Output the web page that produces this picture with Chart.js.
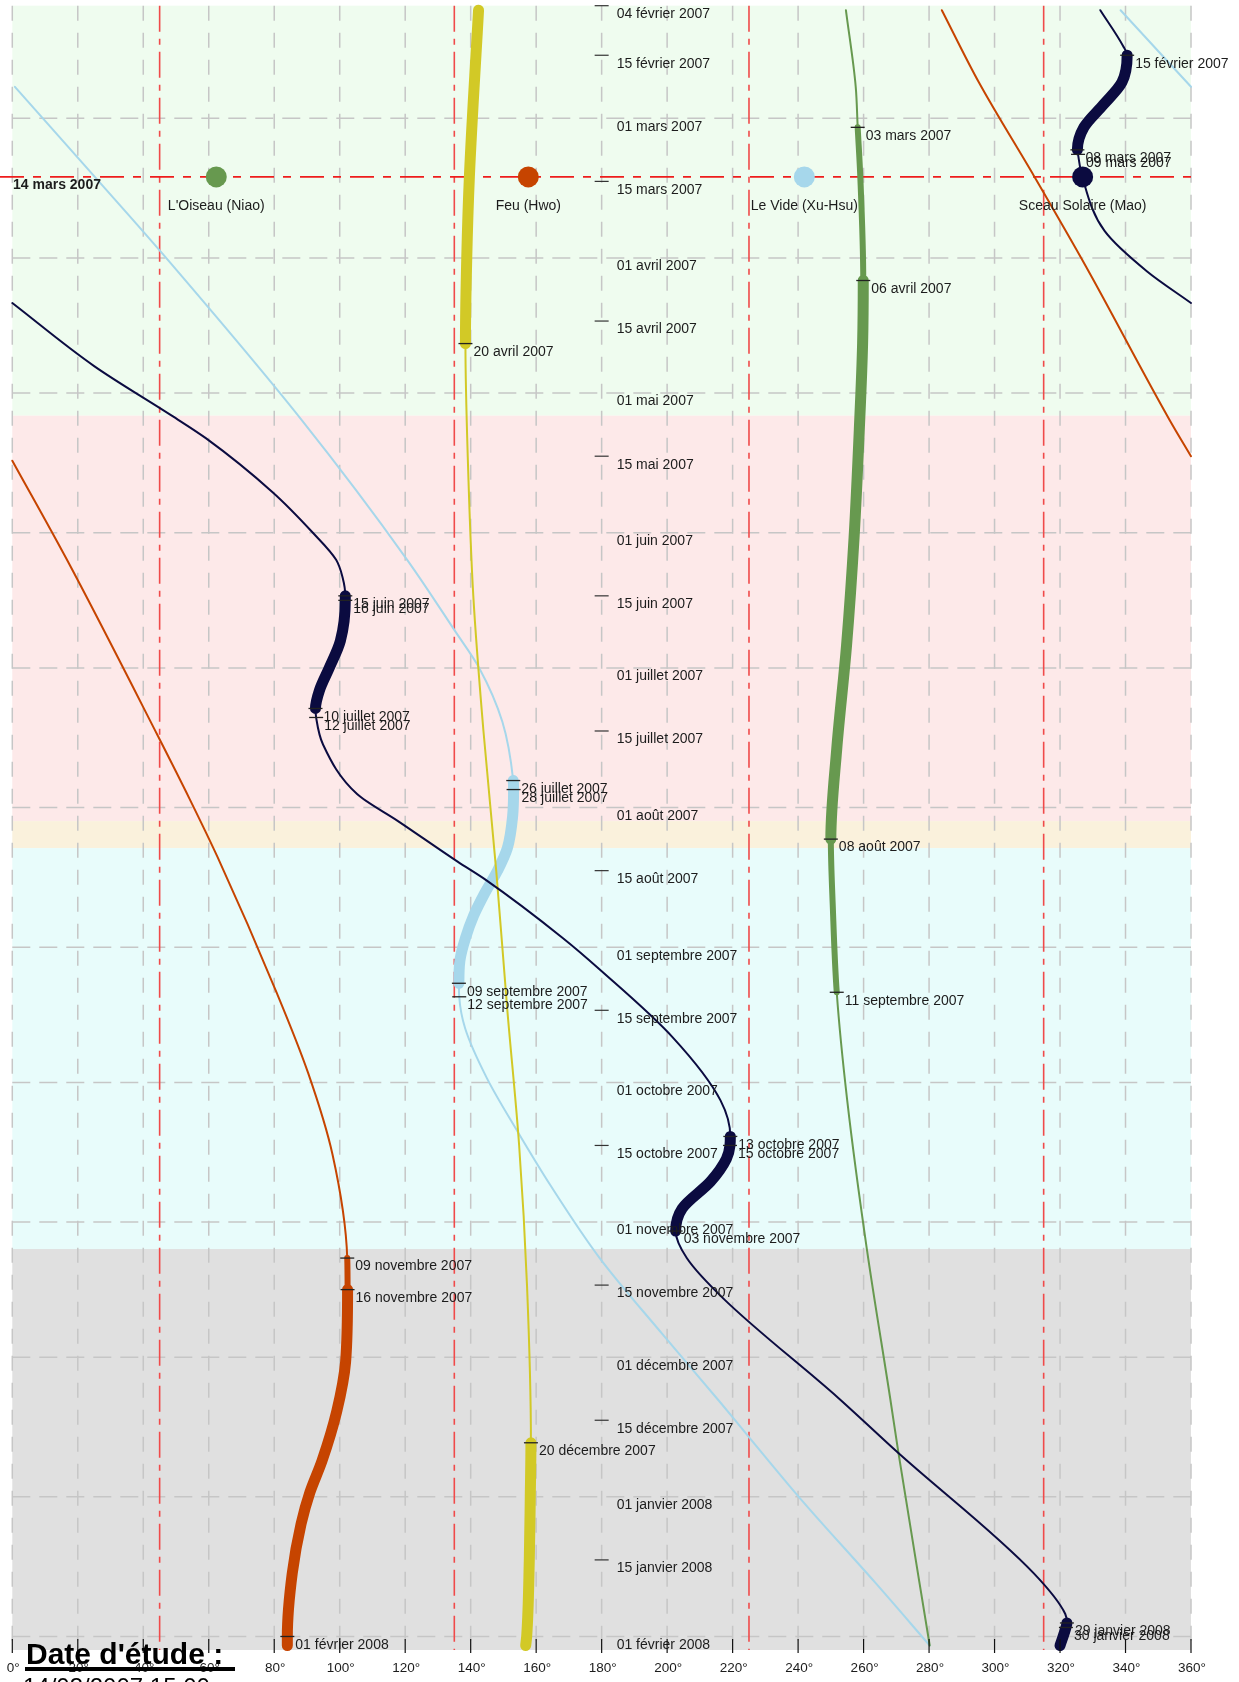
<!DOCTYPE html>
<html><head><meta charset="utf-8">
<script src="https://cdn.jsdelivr.net/npm/chart.js@4/dist/chart.umd.min.js"></script>
<style>html,body{margin:0;padding:0;background:#fff;overflow:hidden}canvas{display:block}</style>
</head><body>
<canvas id="c" width="1239" height="1682" style="width:1239px;height:1682px"></canvas>
<script>
// ---------- data ----------
const START = '2007-02-04';
const STUDY_DATE = '2007-03-14';
const STUDY_LABEL = '14 mars 2007';
const STUDY_TEXT = '14/03/2007 15:00';

const bandStarts = ['2007-02-04', '2007-05-06', '2007-08-04', '2007-08-10', '2007-11-07'];
const bandColors = ['#effcef', '#fde9e9', '#faf1dc', '#e8fcfb', '#e0e0e0'];

const axisDates = ['2007-02-04','2007-02-15','2007-03-01','2007-03-15','2007-04-01','2007-04-15','2007-05-01','2007-05-15',
  '2007-06-01','2007-06-15','2007-07-01','2007-07-15','2007-08-01','2007-08-15','2007-09-01','2007-09-15','2007-10-01',
  '2007-10-15','2007-11-01','2007-11-15','2007-12-01','2007-12-15','2008-01-01','2008-01-15','2008-02-01'];
const lonTicks = [0,20,40,60,80,100,120,140,160,180,200,220,240,260,280,300,320,340,360];
const redLons = [45, 135, 225, 315];

const markerNames = ["L'Oiseau (Niao)", 'Feu (Hwo)', 'Le Vide (Xu-Hsu)', 'Sceau Solaire (Mao)'];
const markerLons = [62.3, 157.6, 241.9, 326.9];

const saturnDates = ['2007-02-05','2007-03-14','2007-04-01','2007-04-20','2007-05-15','2007-06-15','2007-07-15','2007-08-15',
  '2007-09-15','2007-10-15','2007-11-15','2007-12-20','2008-01-01','2008-01-15','2008-02-01','2008-02-03'];
const saturnLon = [142.4,139.6,138.8,138.4,139.1,140.8,143.9,147.8,151.2,154.8,157.2,158.4,158.2,157.9,157.1,156.8];
const saturnEvents = ['2007-04-20','2007-12-20'];

const jupiterDates = ['2007-02-05','2007-02-22','2007-03-03','2007-03-14','2007-04-06','2007-04-20','2007-05-09','2007-06-02',
  '2007-06-26','2007-07-19','2007-08-08','2007-08-23','2007-09-11','2007-10-05','2007-11-07','2007-12-10','2007-12-22','2008-02-03'];
const jupiterLon = [254.6,257.6,258.2,259.0,259.9,259.7,258.7,257.1,254.8,251.8,250.0,250.6,251.8,255.0,261.0,268.1,270.6,280.2];
const jupiterEvents = ['2007-03-03','2007-04-06','2007-08-08','2007-09-11'];

const mercuryDates = ['2007-02-05','2007-02-13','2007-02-15','2007-02-21','2007-02-26','2007-03-03','2007-03-08','2007-03-09',
  '2007-03-14','2007-03-26','2007-04-04','2007-04-11','2007-04-11','2007-04-25','2007-05-06','2007-05-11',
  '2007-05-23','2007-06-01','2007-06-07','2007-06-11','2007-06-15','2007-06-16','2007-06-25','2007-07-01','2007-07-06','2007-07-10',
  '2007-07-12','2007-07-18','2007-07-29','2007-08-04','2007-08-13','2007-08-17','2007-08-30','2007-09-06','2007-09-21',
  '2007-10-05','2007-10-13','2007-10-15','2007-10-18','2007-10-23','2007-10-29','2007-11-03','2007-11-09',
  '2007-11-18','2007-12-10','2007-12-22','2008-01-18','2008-01-27','2008-01-29','2008-01-30','2008-02-03'];
const mercuryLon = [332.3,339.3,340.5,338.9,333.2,327.3,325.3,325.5,
  326.8,333.6,346.6,360,0,25.0,48.7,59.1,
  79.5,91.8,98.9,100.9,101.7,101.7,100.2,96.8,93.8,92.6,
  92.8,94.9,105.3,117.8,136.0,144.5,168.2,179.5,201.7,
  216.3,219.3,219.2,218.1,213.3,204.6,202.6,206.0,
  217.2,252.2,270.2,312.0,321.6,322.1,321.8,320.0];
const mercuryEvents = ['2007-02-15','2007-03-08','2007-03-09','2007-06-15','2007-06-16','2007-07-10','2007-07-12',
  '2007-10-13','2007-10-15','2007-11-03','2008-01-29','2008-01-30'];

const venusDates = ['2007-02-05','2007-02-22','2007-02-22','2007-03-14','2007-03-31','2007-05-07',
  '2007-06-07','2007-06-23','2007-07-01','2007-07-13','2007-07-26','2007-07-28','2007-08-03','2007-08-10','2007-08-15',
  '2007-08-20','2007-08-25','2007-08-30','2007-09-04','2007-09-09','2007-09-12','2007-09-19','2007-09-30','2007-10-12',
  '2007-10-24','2007-11-09','2007-11-26','2007-12-11','2007-12-19','2008-01-02','2008-01-20','2008-02-03'];
const venusLon = [338.5,360,0.8,25.2,45.8,88.4,
  120.6,135.4,142.6,149.7,153.0,153.1,152.8,151.2,148.2,
  144.3,140.9,138.4,136.7,136.4,136.5,138.3,144.9,154.4,
  164.5,179.4,198.7,216.2,225.3,241.4,263.5,280.2];
const venusEvents = ['2007-07-26','2007-07-28','2007-09-09','2007-09-12'];

const marsDates = ['2007-02-05','2007-02-21','2007-03-14','2007-04-03','2007-05-07','2007-05-15','2007-05-16','2007-06-07',
  '2007-07-16','2007-07-30','2007-08-12','2007-09-11','2007-09-29','2007-10-17','2007-11-09','2007-11-16','2007-12-02',
  '2007-12-13','2007-12-24','2007-12-31','2008-01-07','2008-01-18','2008-02-01','2008-02-03'];
const marsLon = [283.9,295.2,312.2,328.0,353.5,360,0,16.7,
  44.4,54.1,62.7,80.7,90.4,97.8,102.3,102.4,101.8,
  99.1,94.6,90.9,88.2,85.5,84.0,84.0];
const marsEvents = ['2007-11-09','2007-11-16','2008-02-01'];

// phases (date ranges) : slow / retrograde
const saturnRetro = [['2007-02-04','2007-04-20'], ['2007-12-20','2008-02-04']];
const jupiterSlow = [['2007-03-03','2007-04-06'], ['2007-08-08','2007-09-11']];
const jupiterRetro = [['2007-04-06','2007-08-08']];
const mercuryRetro = [['2007-02-15','2007-03-08'], ['2007-06-15','2007-07-10'], ['2007-10-13','2007-11-03'], ['2008-01-29','2008-02-04']];
const venusRetro = [['2007-07-26','2007-09-09']];
const marsSlow = [['2007-11-09','2007-11-16']];
const marsRetro = [['2007-11-16','2008-02-04']];

// ---------- helpers ----------
const MOIS = ['janvier','février','mars','avril','mai','juin','juillet','août','septembre','octobre','novembre','décembre'];
const T0 = Date.parse(START + 'T00:00:00Z');
const dayOf = s => (Date.parse(s + 'T00:00:00Z') - T0) / 86400000;
const frDate = s => { const p = s.split('-'); return p[2] + ' ' + MOIS[+p[1] - 1] + ' ' + p[0]; };
const FONT = '"Liberation Sans", Arial, Helvetica, sans-serif';
const TEXT = '#1c1c1c';

const W_THIN = 2, W_MED = 6, W_THICK = 11;

const planets = [
  {dates: mercuryDates, lons: mercuryLon, events: mercuryEvents, color: '#0b0b40', slow: [], retro: mercuryRetro, order: 1},
  {dates: marsDates, lons: marsLon, events: marsEvents, color: '#c64400', slow: marsSlow, retro: marsRetro, order: 2},
  {dates: saturnDates, lons: saturnLon, events: saturnEvents, color: '#d2c926', slow: [], retro: saturnRetro, order: 3},
  {dates: jupiterDates, lons: jupiterLon, events: jupiterEvents, color: '#67994f', slow: jupiterSlow, retro: jupiterRetro, order: 4},
  {dates: venusDates, lons: venusLon, events: venusEvents, color: '#a6d7eb', slow: [], retro: venusRetro, order: 5},
];
const markerColors = ['#67994f', '#c64400', '#a6d7eb', '#0b0b40'];

function inSpans(day, spans) {
  return spans.some(s => day > dayOf(s[0]) && day < dayOf(s[1]));
}
function widthAt(p, day) {
  return inSpans(day, p.retro) ? W_THICK : inSpans(day, p.slow) ? W_MED : W_THIN;
}
function buildDatasets(p) {
  const pts = p.dates.map((d, i) => ({x: p.lons[i], y: dayOf(d)}));
  const runs = []; let cur = [pts[0]];
  for (let i = 1; i < pts.length; i++) {
    if (Math.abs(pts[i].x - pts[i - 1].x) > 180) { runs.push(cur); cur = [pts[i]]; }
    else cur.push(pts[i]);
  }
  runs.push(cur);
  return runs.map(run => ({
    type: 'line', data: run, borderColor: p.color, borderWidth: W_THIN,
    cubicInterpolationMode: 'monotone', pointRadius: 0, fill: false,
    borderCapStyle: 'round', borderJoinStyle: 'round', order: p.order, clip: false,
    segment: {
      borderWidth: c => widthAt(p, (run[c.p0DataIndex].y + run[c.p1DataIndex].y) / 2)
    }
  }));
}

const datasets = [];
planets.forEach(p => datasets.push(...buildDatasets(p)));
datasets.push({
  type: 'line', showLine: false, order: 0,
  data: markerLons.map(l => ({x: l, y: dayOf(STUDY_DATE)})),
  pointRadius: 10.5, pointHoverRadius: 10.5, pointBackgroundColor: markerColors, pointBorderWidth: 0
});

function seg(ctx, x0, y0, x1, y1) { ctx.beginPath(); ctx.moveTo(x0, y0); ctx.lineTo(x1, y1); ctx.stroke(); }

const backPlugin = {
  id: 'back',
  beforeDatasetsDraw(chart) {
    const {ctx, chartArea: a, scales: {x, y}} = chart;
    ctx.save();
    for (let i = 0; i < bandStarts.length; i++) {
      const y0 = y.getPixelForValue(dayOf(bandStarts[i]));
      const y1 = i + 1 < bandStarts.length ? y.getPixelForValue(dayOf(bandStarts[i + 1])) : a.bottom;
      ctx.fillStyle = bandColors[i];
      ctx.fillRect(a.left, y0, a.right - a.left, y1 - y0);
    }
    ctx.strokeStyle = '#c6c6c6'; ctx.lineWidth = 1.5;
    ctx.setLineDash([15, 12]);
    lonTicks.forEach(l => { const px = x.getPixelForValue(l); seg(ctx, px, a.top, px, a.bottom); });
    ctx.setLineDash([18, 9]);
    axisDates.filter(d => d.endsWith('-01')).forEach(d => {
      const py = y.getPixelForValue(dayOf(d)); seg(ctx, a.left, py, a.right, py);
    });
    ctx.strokeStyle = '#f04a4a'; ctx.lineWidth = 1.6;
    ctx.setLineDash([26, 7, 6, 7]);
    redLons.forEach(l => { const px = x.getPixelForValue(l); seg(ctx, px, a.top, px, a.bottom); });
    const sy = y.getPixelForValue(dayOf(STUDY_DATE));
    ctx.strokeStyle = '#ee1c1c';
    ctx.setLineDash([24, 9, 8, 9]);
    seg(ctx, 0, sy, a.right, sy);
    ctx.restore();
  },
  afterDatasetsDraw(chart) {
    const {ctx, chartArea: a, scales: {x, y}} = chart;
    ctx.save();
    ctx.fillStyle = TEXT; ctx.font = '14px ' + FONT; ctx.textBaseline = 'middle'; ctx.textAlign = 'left';
    // date axis at 180°
    const ax = x.getPixelForValue(180);
    ctx.strokeStyle = '#333'; ctx.lineWidth = 1.2;
    axisDates.forEach(d => {
      const py = y.getPixelForValue(dayOf(d));
      if (!d.endsWith('-01')) seg(ctx, ax - 7, py, ax + 7, py);
      ctx.fillText(frDate(d), ax + 15, py + 8.5);
    });
    // events
    planets.forEach(p => p.events.forEach(e => {
      const i = p.dates.indexOf(e);
      const px = x.getPixelForValue(p.lons[i]), py = y.getPixelForValue(dayOf(e));
      ctx.strokeStyle = '#222'; ctx.lineWidth = 1.3;
      seg(ctx, px - 7, py, px + 7, py);
      ctx.fillText(frDate(e), px + 8, py + 8.5);
    }));
    // marker labels
    const sy = y.getPixelForValue(dayOf(STUDY_DATE));
    ctx.textAlign = 'center';
    markerNames.forEach((n, i) => ctx.fillText(n, x.getPixelForValue(markerLons[i]), sy + 29.5));
    ctx.textAlign = 'left';
    ctx.font = 'bold 14px ' + FONT;
    ctx.fillText(STUDY_LABEL, 13, sy + 8);
    // bottom axis
    ctx.strokeStyle = '#111'; ctx.lineWidth = 1.2;
    ctx.font = '13.5px ' + FONT; ctx.textAlign = 'center';
    lonTicks.forEach(l => {
      const px = x.getPixelForValue(l);
      seg(ctx, px, a.bottom - 11, px, a.bottom + 3);
      ctx.fillText(l + '°', px + 1, a.bottom + 18);
    });
    // study date text
    ctx.textAlign = 'left'; ctx.textBaseline = 'alphabetic'; ctx.fillStyle = '#000';
    ctx.font = 'bold 30px ' + FONT;
    ctx.fillText("Date d'étude :", 26, 1664);
    ctx.fillRect(25, 1667, 210, 4);
    ctx.font = '24px ' + FONT;
    ctx.fillText(STUDY_TEXT, 23, 1695);
    ctx.restore();
  }
};

new Chart(document.getElementById('c'), {
  type: 'line',
  data: {datasets},
  options: {
    indexAxis: 'y', responsive: false, animation: false, devicePixelRatio: 1,
    layout: {autoPadding: false, padding: {left: 12.3, right: 48, top: 5.7, bottom: 32}},
    scales: {
      x: {type: 'linear', min: 0, max: 360, display: false},
      y: {type: 'linear', min: 0, max: 365, reverse: true, display: false}
    },
    plugins: {legend: {display: false}, tooltip: {enabled: false}},
    events: []
  },
  plugins: [backPlugin]
});
</script>
</body></html>
